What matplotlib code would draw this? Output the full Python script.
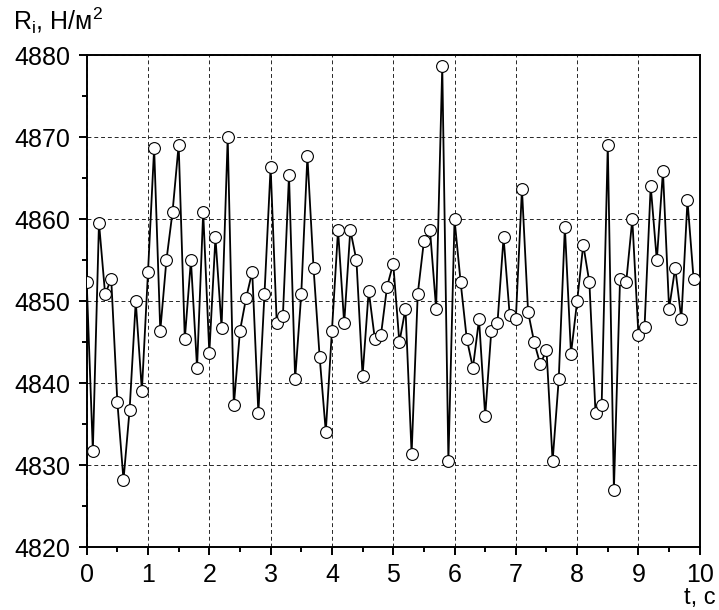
import matplotlib
matplotlib.use("Agg")
import matplotlib.pyplot as plt
from matplotlib.ticker import MultipleLocator
import numpy as np

plt.rcParams['font.family'] = ['Liberation Sans', 'DejaVu Sans']
plt.rcParams['mathtext.fontset'] = 'custom'
plt.rcParams['mathtext.rm'] = 'Liberation Sans'

# time samples, step 0.1 s
t = np.arange(100) * 0.1

# R_i values, N/m^2
R = [
    4852.3, 4831.8, 4859.6, 4850.9, 4852.7, 4837.7, 4828.2, 4836.8, 4850.0, 4839.1,
    4853.6, 4868.7, 4846.4, 4855.0, 4860.9, 4869.1, 4845.4, 4855.0, 4841.9, 4860.9,
    4843.7, 4857.8, 4846.8, 4870.0, 4837.3, 4846.4, 4850.4, 4853.6, 4836.4, 4850.9,
    4866.4, 4847.3, 4848.2, 4865.4, 4840.5, 4850.9, 4867.7, 4854.1, 4843.2, 4834.1,
    4846.4, 4858.7, 4847.3, 4858.7, 4855.0, 4840.9, 4851.3, 4845.4, 4845.9, 4851.8,
    4854.6, 4845.0, 4849.1, 4831.4, 4850.9, 4857.3, 4858.7, 4849.1, 4878.7, 4830.5,
    4860.0, 4852.3, 4845.4, 4841.9, 4847.8, 4836.0, 4846.4, 4847.3, 4857.8, 4848.3,
    4847.8, 4863.7, 4848.7, 4845.0, 4842.3, 4844.1, 4830.5, 4840.5, 4859.1, 4843.6,
    4850.0, 4856.9, 4852.3, 4836.4, 4837.3, 4869.1, 4827.0, 4852.7, 4852.3, 4860.0,
    4845.9, 4846.9, 4864.1, 4855.0, 4865.9, 4849.1, 4854.1, 4847.8, 4862.3, 4852.7,
]

fig = plt.figure(figsize=(7.19, 6.10), dpi=100)
ax = fig.add_axes([0.1206, 0.1028, 0.8526, 0.8065])

ax.plot(t, R, color='black', linewidth=1.3, marker='o', markersize=8.5,
        markerfacecolor='white', markeredgecolor='black', markeredgewidth=0.8, zorder=3)

ax.set_xlim(0, 10)
ax.set_ylim(4820, 4880)
ax.xaxis.set_major_locator(MultipleLocator(1))
ax.xaxis.set_minor_locator(MultipleLocator(0.5))
ax.yaxis.set_major_locator(MultipleLocator(10))
ax.yaxis.set_minor_locator(MultipleLocator(5))

ax.grid(True, which='major', color='0.15', linestyle=(0, (4, 3)), linewidth=0.7)
ax.set_axisbelow(True)

for s in ax.spines.values():
    s.set_linewidth(1.4)

ax.tick_params(which='major', direction='out', length=6, width=1.4, labelsize=18, pad=6)
ax.tick_params(axis='x', which='major', pad=5)
ax.tick_params(which='minor', direction='out', length=3.5, width=1.4)
ax.tick_params(top=False, right=False)

# axis labels placed like the original (y at top-left, x at bottom-right)
fig.text(13 / 719, 1 - 30 / 610, r'R$_\mathregular{i}$, Н/м$^\mathregular{2}$',
         fontsize=18, ha='left', va='baseline')
fig.text(716 / 719, 1 - 604 / 610, 't, с', fontsize=17, ha='right', va='baseline')

plt.savefig('out.png', dpi=100)
plt.close()
